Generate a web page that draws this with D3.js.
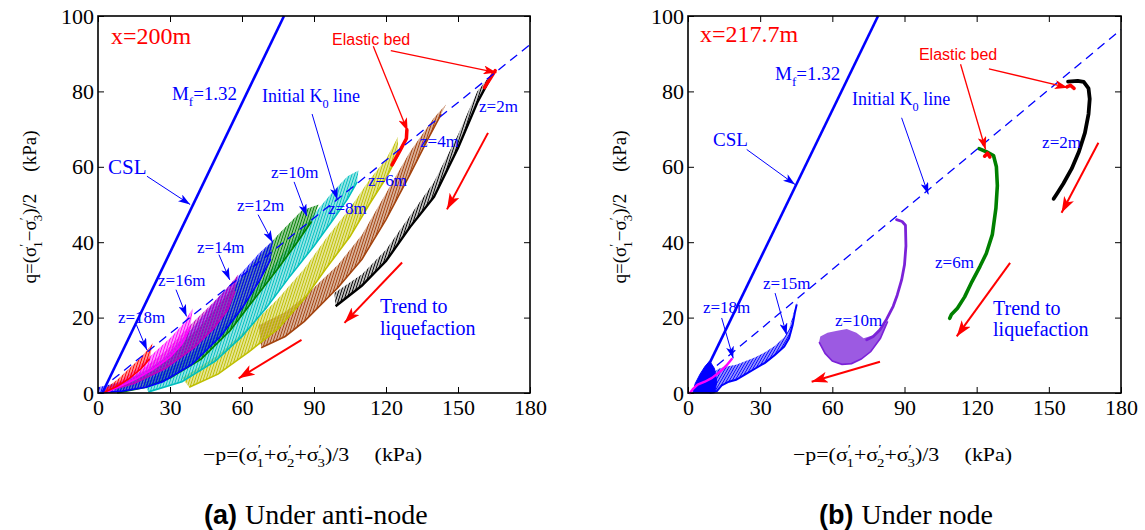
<!DOCTYPE html>
<html>
<head>
<meta charset="utf-8">
<script src="https://cdn.jsdelivr.net/npm/d3@7/dist/d3.min.js"></script>
<style>
body { margin: 0; background: #fff; }
text { font-family: 'Liberation Serif', 'Times New Roman', 'DejaVu Serif', serif; }
</style>
</head>
<body>
<div class="viz"></div>
<script>
// ---- axes ----
let pTicks = [0, 30, 60, 90, 120, 150, 180];
let qTicks = [0, 20, 40, 60, 80, 100];

// ---- (a) under anti-node, x=200m : stress path bands [p, q] ----
let a_z2_low  = [[99,23],[110,28.5],[120,35],[130,44],[140,52],[150,65],[158,77],[163,83]];
let a_z2_high = [[98.5,26.5],[110,31.5],[120,38],[130,47],[140,56],[150,68.5],[158,80],[165,85.5]];
let a_z4_low  = [[68,12],[78,15],[86,19],[100,28],[110,35.5],[120,46],[130,58],[138,68],[143,74]];
let a_z4_high = [[67,18],[78,21.5],[86,25.5],[100,34],[110,42],[120,53],[130,64],[140,73],[145,76.5]];
let a_z6_low  = [[38,1.5],[50,5],[63,11],[75,17],[86,25],[95,33],[105,41.5],[113,50],[120,57],[125,63]];
let a_z6_high = [[35,4],[50,10],[63,17.5],[75,25],[86,33],[95,41],[105,49],[113,56.5],[120,62],[125,68]];
let a_z8_low  = [[21,0.3],[35,3],[49,8.5],[60,15],[70,22.5],[80,31],[90,39],[98,46],[104,51.5],[108,56]];
let a_z8_high = [[19,2.5],[35,8.5],[49,15.5],[60,23],[70,31],[80,39.5],[90,47.5],[98,53.5],[104,57.5],[108.5,59]];
let a_z10_low  = [[8,0],[20,1.5],[30,4],[43,9],[55,16.5],[64,24],[75,33],[83,40],[89,45.5]];
let a_z10_high = [[7,2],[20,5.5],[30,10],[43,18],[55,27],[64,34],[75,42],[85,48.5],[92,50]];
let a_z12_low  = [[0,0],[10,0.5],[20,1.5],[27,3],[39,7.5],[51,15],[60,22.5],[67,29.5],[72,35.5]];
let a_z12_high = [[0,1.5],[10,3],[20,6],[27,9],[39,17],[51,26],[60,32],[67,37],[73,40.5]];
let a_z14_low  = [[2,0.2],[15,2.5],[28,6.5],[40,12],[48,17],[54,22],[57,27]];
let a_z14_high = [[2,1],[15,4.5],[28,11],[40,19],[48,24],[54,28],[58.5,31.5]];
let a_z16_low  = [[4,0.3],[10,2],[16,3.8],[23,6.3],[30,9.5],[35,13],[38.5,17.5]];
let a_z16_high = [[4,1],[10,3.5],[16,6.5],[23,10.5],[30,14.5],[35,18],[39.5,22.5]];
let a_z18_low  = [[2,0],[8,1.8],[13,3.8],[18,6.5],[21.5,9]];
let a_z18_high = [[2,0.7],[8,3.5],[13,6.5],[18,9.5],[22.8,13.2]];
let a_bed6 = [[122.5,60.5],[126,64.5],[128.5,67.5],[128.7,69.8]];
let a_bed2 = [[161,81],[163.5,83.5],[165.5,85.5]];
let a_csl = [[1.8,0],[77.5,100]];
let a_k0  = [[6,3.5],[180,92.4]];

// ---- (b) under node, x=217.7m ----
let b_z2  = [[158,82.6],[162,82.8],[164.5,82.5],[166.5,80.8],[167,78],[166.5,74],[165,69],[162.5,64],[159.5,59.5],[156,55.5],[153.5,53],[152,51.5]];
let b_z6  = [[121,64.8],[124,64],[127,63],[128.2,60],[128.6,55],[128,49],[126.5,42],[124,37],[121.4,33.6],[118,29.5],[115,25.5],[112,22.5],[109.5,20.8],[108.8,19.8]];
let b_z10 = [[86.7,46],[89,45.5],[90.4,44.5],[90.6,39],[90,34],[88.8,30],[87,26],[85.3,23],[82.5,19.5],[79.8,16.8],[77,15],[74.3,14.1]];
let b_z10_low  = [[54.5,13.5],[57,10.5],[60,8.5],[64,7.6],[68,7.8],[72,9],[76,11],[80,14.5],[83,19]];
let b_z10_high = [[55,15],[58,16],[62,16.5],[66,17],[70,16],[73,14.5],[77,15.3],[80,17],[83,19]];
let b_z15_low  = [[9,0],[12,0.5],[14,2],[17,3],[20,3.5],[24,5],[28,6.5],[32,8],[36,10],[40,12.3],[42,14.5],[43.5,18],[44.5,21.5],[45.2,23.5]];
let b_z15_high = [[9,5],[13,6.5],[16,7],[20,7.5],[24,8.5],[28,9.5],[32,10.8],[36,12.5],[40,14.8],[42,17],[43.8,21],[45.6,24.5]];
let b_z15_blob = [[2,0],[3,2.5],[5,5],[7,7],[9,8.5],[11,6.5],[12,3],[11,0]];
let b_z18 = [[0.8,0],[2,1],[4,2.2],[7,3],[10,4],[13,5.5],[16,7.3],[18.2,9]];
let b_bed2 = [[157.5,81.2],[159,81.6],[160.5,80.8]];
let b_bed6 = [[123.3,62.8],[124.5,63.6],[125.5,62.6]];
let b_csl = [[6,4],[79,100]];
let b_k0  = [[12,7.3],[180,96.4]];

let W = 1145, H = 530;
let plotTop = 16, plotBottom = 393;
let sans = "'Liberation Sans', Arial, 'DejaVu Sans', sans-serif";

let svg = d3.select('.viz').append('svg')
	.attr('width', W)
	.attr('height', H);
let defs = svg.append('defs');

function hatch(id, color, gap, angle, fill) {
	let p = defs.append('pattern')
		.attr('id', id)
		.attr('patternUnits', 'userSpaceOnUse')
		.attr('width', gap).attr('height', 10)
		.attr('patternTransform', 'rotate(' + angle + ')');
	p.append('line')
		.attr('x1', gap / 2).attr('x2', gap / 2)
		.attr('y1', -1).attr('y2', 11)
		.attr('stroke', color)
		.attr('stroke-width', gap * fill);
}

function marker(id, color, len, wid) {
	defs.append('marker')
		.attr('id', id)
		.attr('viewBox', '0 0 ' + len + ' ' + wid)
		.attr('refX', len).attr('refY', wid / 2)
		.attr('markerWidth', len).attr('markerHeight', wid)
		.attr('markerUnits', 'userSpaceOnUse')
		.attr('orient', 'auto')
		.append('path')
		.attr('d', 'M0,0L' + len + ',' + wid / 2 + 'L0,' + wid + 'L' + len * 0.25 + ',' + wid / 2 + 'Z')
		.attr('fill', color);
}
marker('headBlue', '#0000ff', 12, 8);
marker('headRed', '#ff0000', 13, 9);
marker('headTrend', '#ff0000', 16, 11);

// tspan builder for primes / subscripts
function rich(t, parts, fs) {
	let level = 0;
	parts.forEach(function(pt) {
		let s = pt[0], k = pt[1] || '';
		let target = k === 'sup' ? -0.42 * fs : (k === 'sub' || k === 'subU') ? 0.33 * fs : 0;
		let ts = t.append('tspan').text(s).attr('dy', target - level);
		if (k) ts.attr('font-size', fs * 0.68);
		if (k === 'subU') ts.attr('dx', -0.2 * fs);
		if (pt[2]) ts.attr('dx', pt[2]);
		level = target;
	});
}

let xLabelParts = [['\u2212p=(\u03c3'], ['\u2032', 'sup'], ['1', 'subU'], ['+\u03c3'], ['\u2032', 'sup'], ['2', 'subU'],
	['+\u03c3'], ['\u2032', 'sup'], ['3', 'subU'], [')/3'], ['(kPa)', '', 22]];
let yLabelParts = [['q=(\u03c3'], ['\u2032', 'sup'], ['1', 'subU'], ['\u2212\u03c3'], ['\u2032', 'sup'], ['3', 'subU'],
	[')/2'], ['(kPa)', '', 22]];

let blue = '#0000ff', red = '#ff0000';

function drawPanel(cfg) {
	let x = d3.scaleLinear().domain([0, 180]).range([cfg.x0, cfg.x1]);
	let y = d3.scaleLinear().domain([0, 100]).range([plotBottom, plotTop]);
	let line = d3.line().x(function(d) { return x(d[0]); }).y(function(d) { return y(d[1]); });

	let g = svg.append('g');

	// axes with inward ticks
	let ax = g.append('g').attr('transform', 'translate(0,' + plotBottom + ')')
		.call(d3.axisBottom(x).tickValues(pTicks).tickSizeInner(-6).tickSizeOuter(0).tickPadding(6));
	let ay = g.append('g').attr('transform', 'translate(' + cfg.x0 + ',0)')
		.call(d3.axisLeft(y).tickValues(qTicks).tickSizeInner(-6).tickSizeOuter(0).tickPadding(4));
	g.append('g').attr('transform', 'translate(0,' + plotTop + ')')
		.call(d3.axisTop(x).tickValues(pTicks).tickSizeInner(-6).tickSizeOuter(0).tickFormat(''));
	g.append('g').attr('transform', 'translate(' + cfg.x1 + ',0)')
		.call(d3.axisRight(y).tickValues(qTicks).tickSizeInner(-6).tickSizeOuter(0).tickFormat(''));
	g.selectAll('.domain').remove();
	g.selectAll('.tick line').attr('stroke', '#000').attr('stroke-width', 1);
	[ax, ay].forEach(function(a) {
		a.attr('font-size', 22);
		a.selectAll('text').attr('fill', '#000');
	});

	let plot = g.append('g');

	// stress-path bands
	cfg.bands.forEach(function(b, i) {
		let id = cfg.id + 'h' + i;
		hatch(id, b.color, b.gap || 2.6, b.angle || 18, b.fill || 0.62);
		plot.append('path')
			.attr('d', line(b.low.concat(b.high.slice().reverse())) + 'Z')
			.attr('fill', 'url(#' + id + ')');
		plot.append('path')
			.attr('d', line(b.low))
			.attr('fill', 'none')
			.attr('stroke', b.color)
			.attr('stroke-width', b.edge || 1.6);
	});
	// solid blobs
	(cfg.blobs || []).forEach(function(b) {
		plot.append('path').attr('d', line(b.pts) + 'Z').attr('fill', b.color)
			.attr('stroke', b.color).attr('stroke-width', 1);
	});
	// thick paths
	(cfg.paths || []).forEach(function(b) {
		plot.append('path')
			.attr('d', line(b.pts))
			.attr('fill', 'none')
			.attr('stroke', b.color)
			.attr('stroke-width', b.width)
			.attr('stroke-linejoin', 'round')
			.attr('stroke-linecap', 'round');
	});

	// CSL and K0 lines
	plot.append('path').attr('d', line(cfg.csl)).attr('stroke', blue).attr('stroke-width', 2.6).attr('fill', 'none');
	plot.append('path').attr('d', line(cfg.k0)).attr('stroke', blue).attr('stroke-width', 1.3)
		.attr('stroke-dasharray', '9,6').attr('fill', 'none');

	// annotation arrows
	cfg.arrows.forEach(function(a) {
		plot.append('line')
			.attr('x1', x(a.from[0])).attr('y1', y(a.from[1]))
			.attr('x2', x(a.to[0])).attr('y2', y(a.to[1]))
			.attr('stroke', a.color)
			.attr('stroke-width', a.w)
			.attr('marker-end', 'url(#' + a.head + ')');
	});

	// annotation texts
	cfg.texts.forEach(function(t) {
		let el = plot.append('text')
			.attr('x', x(t.at[0])).attr('y', y(t.at[1]))
			.attr('font-size', t.fs)
			.attr('fill', t.color);
		if (t.sans) el.style('font-family', sans);
		rich(el, t.parts, t.fs);
	});

	// frame
	g.append('rect')
		.attr('x', cfg.x0).attr('y', plotTop)
		.attr('width', cfg.x1 - cfg.x0).attr('height', plotBottom - plotTop)
		.attr('fill', 'none').attr('stroke', '#000').attr('stroke-width', 1.6);

	// axis titles
	let xt = g.append('text').attr('x', cfg.x0 + 105).attr('y', 461).attr('font-size', 19)
		.attr('textLength', 219).attr('lengthAdjust', 'spacingAndGlyphs');
	rich(xt, xLabelParts, 19);
	let yt = g.append('text')
		.attr('transform', 'translate(' + (cfg.x0 - 62) + ',' + 207 + ') rotate(-90)')
		.attr('text-anchor', 'middle').attr('font-size', 19);
	rich(yt, yLabelParts, 19);

	// caption
	let cap = g.append('text').attr('x', cfg.capX).attr('y', 524).attr('font-size', 28);
	cap.append('tspan').text(cfg.capTag)
		.style('font-family', sans).attr('font-weight', 'bold').attr('font-size', 27);
	cap.append('tspan').text(cfg.caption).attr('dx', 8);
}

function zl(s, at) { return { parts: [[s]], at: at, fs: 17, color: blue }; }

drawPanel({
	id: 'a', x0: 98, x1: 530, capX: 204, capTag: '(a)', caption: 'Under anti-node',
	bands: [
		{ low: a_z2_low, high: a_z2_high, color: '#000000', edge: 2.4, fill: 0.5 },
		{ low: a_z4_low, high: a_z4_high, color: '#a3420d' },
		{ low: a_z6_low, high: a_z6_high, color: '#bfbf00' },
		{ low: a_z8_low, high: a_z8_high, color: '#00bfbf' },
		{ low: a_z10_low, high: a_z10_high, color: '#008000' },
		{ low: a_z12_low, high: a_z12_high, color: '#0000ff' },
		{ low: a_z14_low, high: a_z14_high, color: '#bf00bf' },
		{ low: a_z16_low, high: a_z16_high, color: '#ff00ff' },
		{ low: a_z18_low, high: a_z18_high, color: '#ff0000' }
	],
	paths: [
		{ pts: a_bed6, color: red, width: 3.5 },
		{ pts: a_bed2, color: red, width: 3.5 }
	],
	csl: a_csl, k0: a_k0,
	arrows: [
		{ from: [20.4, 57.5], to: [38.4, 50], color: blue, w: 1, head: 'headBlue' },
		{ from: [89.2, 74], to: [99.7, 51.3], color: blue, w: 1, head: 'headBlue' },
		{ from: [81.7, 56], to: [87, 46.9], color: blue, w: 1, head: 'headBlue' },
		{ from: [66.7, 47.3], to: [72.8, 39.9], color: blue, w: 1, head: 'headBlue' },
		{ from: [50.4, 36.7], to: [54.9, 30], color: blue, w: 1, head: 'headBlue' },
		{ from: [32.5, 27.4], to: [36.9, 20.3], color: blue, w: 1, head: 'headBlue' },
		{ from: [16, 18.1], to: [20.4, 11.4], color: blue, w: 1, head: 'headBlue' },
		{ from: [122, 90.8], to: [166, 85], color: red, w: 1.3, head: 'headRed' },
		{ from: [114.7, 92], to: [129, 69.5], color: red, w: 1.3, head: 'headRed' },
		{ from: [162.5, 69], to: [145.4, 48.7], color: red, w: 2, head: 'headTrend' },
		{ from: [126.7, 34.6], to: [102.7, 18.6], color: red, w: 2, head: 'headTrend' },
		{ from: [84.8, 14.1], to: [58.6, 3.9], color: red, w: 2, head: 'headTrend' }
	],
	texts: [
		{ parts: [['x=200m']], at: [5.4, 92.6], fs: 24, color: red },
		{ parts: [['M'], ['f', 'sub'], ['=1.32']], at: [30.8, 77.7], fs: 19, color: blue },
		{ parts: [['CSL']], at: [4.2, 58.2], fs: 21, color: blue },
		{ parts: [['Initial K'], ['0', 'sub'], [' line']], at: [68.3, 77.1], fs: 18, color: blue },
		{ parts: [['Elastic bed']], at: [97.5, 92.3], fs: 16, color: red, sans: true },
		zl('z=2m', [158.75, 74.5]), zl('z=4m', [134.2, 65.2]), zl('z=6m', [112.5, 55]),
		zl('z=8m', [95.8, 47.6]), zl('z=10m', [72.1, 56.9]), zl('z=12m', [57.9, 48.4]),
		zl('z=14m', [41.25, 37.2]), zl('z=16m', [25, 28.5]), zl('z=18m', [8.3, 18.6]),
		{ parts: [['Trend to']], at: [117.5, 21.3], fs: 20, color: blue },
		{ parts: [['liquefaction']], at: [117.5, 15.4], fs: 20, color: blue }
	]
});

drawPanel({
	id: 'b', x0: 688, x1: 1121, capX: 819, capTag: '(b)', caption: 'Under node',
	bands: [
		{ low: b_z10_low, high: b_z10_high, color: '#7b22d8', gap: 2, angle: 25, fill: 0.75 },
		{ low: b_z15_low, high: b_z15_high, color: '#0000ff', gap: 2.4, angle: 30, edge: 2 }
	],
	blobs: [
		{ pts: b_z15_blob, color: '#0000ff' }
	],
	paths: [
		{ pts: b_z2, color: '#000000', width: 3.8 },
		{ pts: b_z6, color: '#008000', width: 3.6 },
		{ pts: b_z10, color: '#7b22d8', width: 2.8 },
		{ pts: b_z18, color: '#ff00ff', width: 2.4 },
		{ pts: b_bed2, color: red, width: 3.5 },
		{ pts: b_bed6, color: red, width: 3.5 }
	],
	csl: b_csl, k0: b_k0,
	arrows: [
		{ from: [24.4, 64.6], to: [44.5, 55.3], color: blue, w: 1, head: 'headBlue' },
		{ from: [88.8, 73], to: [99.9, 52.7], color: blue, w: 1, head: 'headBlue' },
		{ from: [36.2, 26.5], to: [41, 15.4], color: blue, w: 1, head: 'headBlue' },
		{ from: [14, 19.9], to: [18.8, 9.2], color: blue, w: 1, head: 'headBlue' },
		{ from: [125.1, 86], to: [157.9, 81], color: red, w: 1.3, head: 'headRed' },
		{ from: [113.3, 87.2], to: [123.7, 64.6], color: red, w: 1.3, head: 'headRed' },
		{ from: [170.6, 66.4], to: [155.3, 47.8], color: red, w: 2, head: 'headTrend' },
		{ from: [133.9, 34.5], to: [111.7, 15], color: red, w: 2, head: 'headTrend' },
		{ from: [79.8, 8.3], to: [51.4, 3], color: red, w: 2, head: 'headTrend' }
	],
	texts: [
		{ parts: [['x=217.7m']], at: [5, 93], fs: 24, color: red },
		{ parts: [['M'], ['f', 'sub'], ['=1.32']], at: [36.2, 83], fs: 19, color: blue },
		{ parts: [['CSL']], at: [10.4, 65.4], fs: 19, color: blue },
		{ parts: [['Initial K'], ['0', 'sub'], [' line']], at: [68.2, 76.3], fs: 18, color: blue },
		{ parts: [['Elastic bed']], at: [96, 88.3], fs: 16, color: red, sans: true },
		zl('z=2m', [147.2, 64.9]), zl('z=6m', [102.7, 33.2]), zl('z=10m', [61.1, 17.8]),
		zl('z=15m', [31.2, 27.7]), zl('z=18m', [6.2, 21.3]),
		{ parts: [['Trend to']], at: [126.8, 20.7], fs: 20, color: blue },
		{ parts: [['liquefaction']], at: [126.8, 15.2], fs: 20, color: blue }
	]
});
</script>
</body>
</html>
